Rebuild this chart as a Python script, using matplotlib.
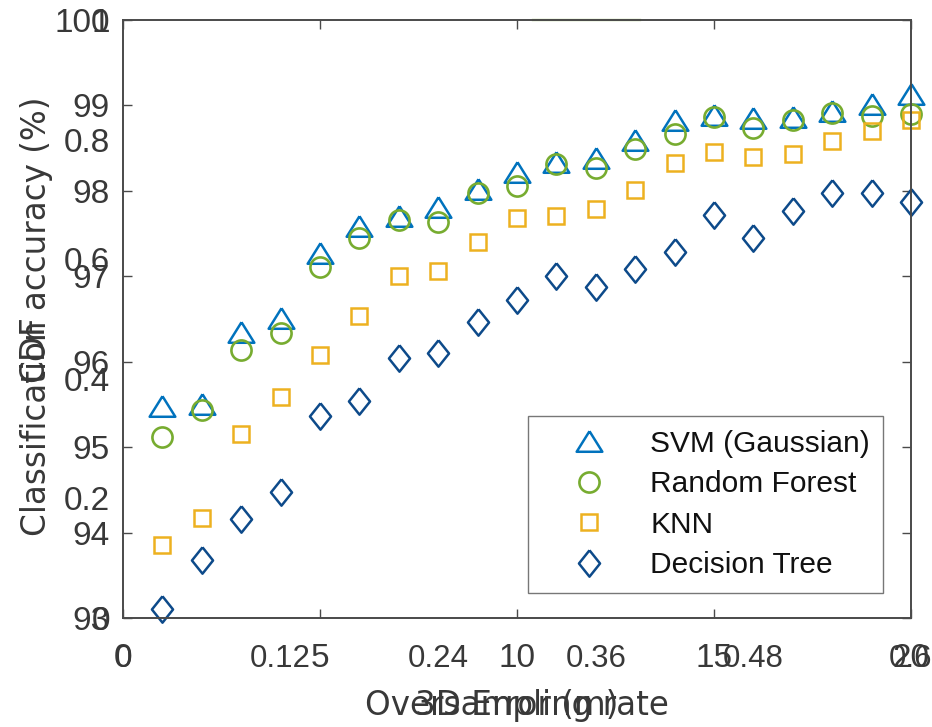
import matplotlib
matplotlib.use('Agg')
import matplotlib.pyplot as plt

# ---- data ----
oversampling_rate = [1, 2, 3, 4, 5, 6, 7, 8, 9, 10, 11, 12, 13, 14, 15, 16, 17, 18, 19, 20]
svm_gaussian = [95.48, 95.51, 96.35, 96.51, 97.27, 97.59, 97.71, 97.81, 98.02, 98.22,
                98.34, 98.38, 98.60, 98.83, 98.89, 98.85, 98.87, 98.93, 99.02, 99.13]
random_forest = [95.12, 95.43, 96.14, 96.34, 97.11, 97.45, 97.66, 97.63, 97.98, 98.06,
                 98.31, 98.27, 98.49, 98.66, 98.86, 98.73, 98.83, 98.91, 98.88, 98.90]
knn = [93.85, 94.17, 95.15, 95.59, 96.08, 96.54, 97.00, 97.06, 97.40, 97.68,
       97.71, 97.79, 98.01, 98.33, 98.46, 98.40, 98.43, 98.58, 98.70, 98.83]
decision_tree = [93.11, 93.68, 94.16, 94.48, 95.36, 95.54, 96.04, 96.10, 96.47, 96.72,
                 97.00, 96.88, 97.08, 97.29, 97.72, 97.45, 97.76, 97.97, 97.97, 97.87]

acc_xticks = [0, 5, 10, 15, 20]
acc_yticks = [93, 94, 95, 96, 97, 98, 99, 100]
cdf_xticks = [0, 0.12, 0.24, 0.36, 0.48, 0.6]
cdf_xticklabels = ['0', '0.12', '0.24', '0.36', '0.48', '0.6']
cdf_yticks = [0, 0.2, 0.4, 0.6, 0.8, 1]
cdf_yticklabels = ['0', '0.2', '0.4', '0.6', '0.8', '1']
cdf_top_x = [0.312, 0.394]
cdf_top_y = [1, 1]

series_names = ['SVM (Gaussian)', 'Random Forest', 'KNN', 'Decision Tree']

# ---- style ----
TXT = '#383838'
SPINE = '#4a4a4a'
tick_font = {'family': 'Liberation Sans', 'size': 24}
cdf_xtick_font = {'family': 'Liberation Sans', 'size': 22.5}
label_font = {'family': 'DejaVu Sans', 'size': 23.5}

tri = [(0, 0.8), (-1, -0.8), (1, -0.8), (0, 0.8)]
dia = [(0, 1), (0.8, 0), (0, -1), (-0.8, 0), (0, 1)]

fig = plt.figure(figsize=(9.32, 7.27), dpi=100)
pos = [123 / 932, 1 - 618 / 727, 788 / 932, 598 / 727]

# CDF axes (behind)
ax2 = fig.add_axes(pos, frameon=False)
ax2.patch.set_visible(False)
ax2.set_xlim(0, 0.6)
ax2.set_ylim(0, 1)
ax2.plot(cdf_top_x, cdf_top_y, color='#77AC30', lw=1.6, clip_on=False)
ax2.set_xticks(cdf_xticks)
ax2.set_xticklabels(cdf_xticklabels, fontdict=cdf_xtick_font, color=TXT)
ax2.set_yticks(cdf_yticks)
ax2.set_yticklabels(cdf_yticklabels, fontdict=tick_font, color=TXT)
ax2.tick_params(axis='both', length=0)
ax2.tick_params(axis='x', pad=18.5)
ax2.tick_params(axis='y', pad=9.4)
ax2.set_xlabel('3D Error (m)', fontdict=label_font, color=TXT)
ax2.set_ylabel('CDF', fontdict=label_font, color=TXT)
ax2.xaxis.set_label_coords(0.5, -0.118)
ax2.yaxis.set_label_coords(-0.092, 0.45)

# Accuracy axes (front)
ax = fig.add_axes(pos)
ax.set_zorder(2)
ax.patch.set_visible(False)
ax.set_xlim(0, 20)
ax.set_ylim(93, 100)

ax.plot(oversampling_rate, svm_gaussian, linestyle='none', marker=tri, ms=18.5,
        mfc='none', mec='#0072BD', mew=1.8, clip_on=False, label=series_names[0])
ax.plot(oversampling_rate, random_forest, linestyle='none', marker='o', ms=14.5,
        mfc='none', mec='#77AC30', mew=1.9, clip_on=False, label=series_names[1])
ax.plot(oversampling_rate, knn, linestyle='none', marker='s', ms=11.5,
        mfc='none', mec='#EDB120', mew=1.8, clip_on=False, label=series_names[2])
ax.plot(oversampling_rate, decision_tree, linestyle='none', marker=dia, ms=19,
        mfc='none', mec='#0D4A8A', mew=1.8, clip_on=False, label=series_names[3])

ax.set_xticks(acc_xticks)
ax.set_xticklabels([str(v) for v in acc_xticks], fontdict=tick_font, color=TXT)
ax.set_yticks(acc_yticks)
ax.set_yticklabels([str(v) for v in acc_yticks], fontdict=tick_font, color=TXT)
ax.tick_params(axis='both', direction='in', length=6.5, width=1.0, color=SPINE,
               top=True, right=True)
ax.tick_params(axis='x', pad=18)
ax.tick_params(axis='y', pad=9.4)
for s in ax.spines.values():
    s.set_color(SPINE)
    s.set_linewidth(1.4)

ax.set_xlabel('Oversampling rate', fontdict=label_font, color=TXT)
ax.set_ylabel('Classification accuracy (%)', fontdict=label_font, color=TXT)
ax.xaxis.set_label_coords(0.5, -0.118)
ax.yaxis.set_label_coords(-0.089, 0.505)

leg = ax.legend(loc='lower right', bbox_to_anchor=(0.965, 0.042), borderaxespad=0,
                prop={'family': 'Liberation Sans', 'size': 21.5},
                fancybox=False, frameon=True, edgecolor='#555555',
                handlelength=3.2, handletextpad=0.45, labelspacing=0.42,
                borderpad=0.45, numpoints=1)
leg.get_frame().set_linewidth(1.0)
for t in leg.get_texts():
    t.set_color('#111111')

fig.savefig('out.png', dpi=100, facecolor='white')
